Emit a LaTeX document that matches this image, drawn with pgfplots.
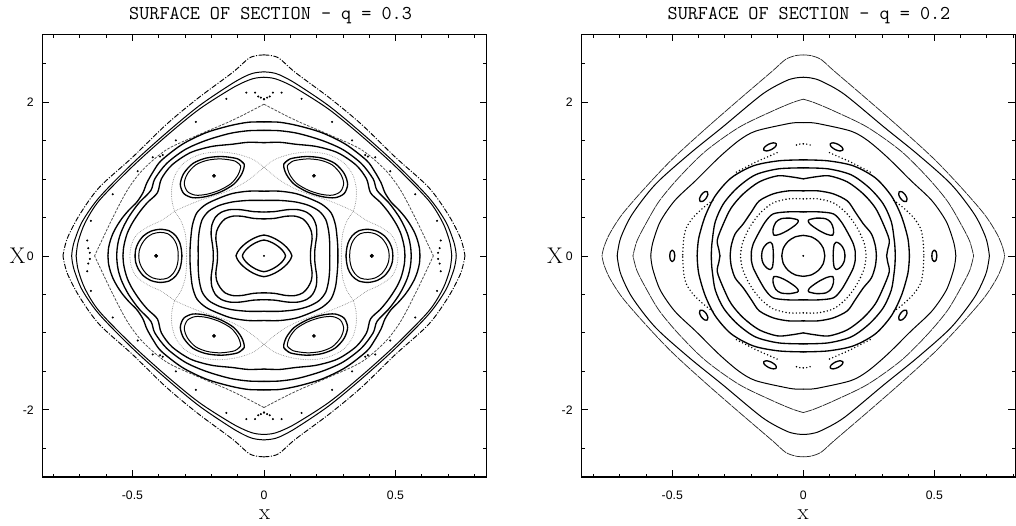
\documentclass[border=0pt]{standalone}
\usepackage{fontspec}
\usepackage{pgfplots}
\pgfplotsset{compat=1.18}
\usepackage{pgfplotstable}
\newfontfamily\tickfont{Liberation Sans}

% ---------- LEFT PANEL (q = 0.3), first quadrant, mirrored ----------
\pgfplotstableread[row sep=\\]{x y\\ 0 2.61\\ 0.03 2.60\\ 0.06 2.56\\ 0.12 2.38\\ 0.25 2.05\\ 0.37 1.71\\ 0.5 1.28\\ 0.626 0.89\\ 0.70 0.54\\ 0.745 0.25\\ 0.76 0.08\\ 0.764 0\\}\LOone
\pgfplotstableread[row sep=\\]{x y\\ 0 2.39\\ 0.03 2.38\\ 0.06 2.35\\ 0.12 2.24\\ 0.246 1.95\\ 0.37 1.6\\ 0.5 1.2\\ 0.626 0.76\\ 0.69 0.45\\ 0.72 0.2\\ 0.729 0.07\\ 0.731 0\\}\LOtwo
\pgfplotstableread[row sep=\\]{x y\\ 0 2.32\\ 0.03 2.31\\ 0.06 2.28\\ 0.12 2.18\\ 0.246 1.905\\ 0.37 1.56\\ 0.5 1.16\\ 0.626 0.72\\ 0.68 0.43\\ 0.705 0.2\\ 0.712 0.07\\ 0.714 0\\}\LOthree
\pgfplotstableread[row sep=\\]{x y\\ 0 1.97\\ 0.073 1.84\\ 0.14 1.73\\ 0.25 1.57\\ 0.37 1.38\\ 0.46 1.12\\ 0.52 0.85\\ 0.58 0.46\\ 0.644 0\\}\LCusp
\pgfplotstableread[row sep=\\]{x y\\ 0 1.74\\ 0.06 1.735\\ 0.13 1.69\\ 0.22 1.6\\ 0.31 1.45\\ 0.39 1.24\\ 0.42 1.1\\ 0.445 0.95\\ 0.46 0.82\\ 0.483 0.7\\ 0.512 0.6\\ 0.537 0.5\\ 0.557 0.4\\ 0.573 0.3\\ 0.584 0.2\\ 0.591 0.1\\ 0.593 0\\}\LEtwo
\pgfplotstableread[row sep=\\]{x y\\ 0 1.63\\ 0.06 1.625\\ 0.13 1.59\\ 0.22 1.5\\ 0.3 1.38\\ 0.37 1.2\\ 0.415 1.0\\ 0.43 0.85\\ 0.472 0.7\\ 0.495 0.6\\ 0.515 0.5\\ 0.531 0.4\\ 0.544 0.3\\ 0.553 0.2\\ 0.558 0.1\\ 0.56 0\\}\LEthree
\pgfplotstableread[row sep=\\]{x y\\ 0 1.47\\ 0.06 1.475\\ 0.12 1.45\\ 0.2 1.42\\ 0.28 1.34\\ 0.35 1.18\\ 0.39 1.0\\ 0.405 0.82\\ 0.441 0.7\\ 0.466 0.6\\ 0.487 0.5\\ 0.505 0.4\\ 0.519 0.3\\ 0.528 0.2\\ 0.534 0.1\\ 0.536 0\\}\LEfour
\pgfplotstableread[row sep=\\]{x y\\ 0 1.15\\ 0.04 1.25\\ 0.1 1.32\\ 0.17 1.35\\ 0.24 1.32\\ 0.3 1.22\\ 0.335 1.07\\ 0.35 0.9\\ 0.35 0.72\\ 0.34 0.58\\}\LSoutA
\pgfplotstableread[row sep=\\]{x y\\ 0.34 0.58\\ 0.39 0.46\\ 0.44 0.38\\ 0.485 0.27\\ 0.505 0.13\\ 0.51 0\\}\LSoutB
\pgfplotstableread[row sep=\\]{x y\\ 0 1.15\\ 0.035 1.05\\ 0.075 0.95\\ 0.125 0.86\\ 0.18 0.79\\ 0.24 0.725\\ 0.295 0.65\\ 0.34 0.58\\}\LSinA
\pgfplotstableread[row sep=\\]{x y\\ 0.34 0.58\\ 0.315 0.45\\ 0.3 0.3\\ 0.295 0.15\\ 0.294 0\\}\LSinB
\pgfplotstableread[row sep=\\]{x y\\ 0.075 1.19\\ 0.1 1.26\\ 0.16 1.29\\ 0.22 1.27\\ 0.27 1.2\\ 0.305 1.07\\ 0.318 0.93\\ 0.305 0.81\\ 0.27 0.755\\ 0.22 0.77\\ 0.165 0.83\\ 0.115 0.93\\ 0.085 1.06\\ 0.075 1.19\\ 0.1 1.26\\}\LIsOut
\pgfplotstableread[row sep=\\]{x y\\ 0.089 1.171\\ 0.111 1.232\\ 0.164 1.259\\ 0.216 1.241\\ 0.26 1.18\\ 0.291 1.065\\ 0.303 0.942\\ 0.291 0.836\\ 0.26 0.788\\ 0.216 0.801\\ 0.168 0.854\\ 0.124 0.942\\ 0.098 1.056\\ 0.089 1.171\\ 0.111 1.232\\}\LIsIn
\pgfplotstableread[row sep=\\]{x y\\ 0.49 0\\ 0.488 0.08\\ 0.478 0.17\\ 0.458 0.26\\ 0.43 0.32\\ 0.395 0.345\\ 0.36 0.325\\ 0.335 0.26\\ 0.32 0.17\\ 0.314 0.08\\ 0.312 0\\}\LSideOut
\pgfplotstableread[row sep=\\]{x y\\ 0.476 0\\ 0.474 0.07\\ 0.465 0.15\\ 0.448 0.23\\ 0.424 0.285\\ 0.395 0.305\\ 0.366 0.288\\ 0.346 0.232\\ 0.333 0.155\\ 0.327 0.07\\ 0.326 0\\}\LSideIn
\pgfplotstableread[row sep=\\]{x y\\ 0 0.84\\ 0.06 0.84\\ 0.12 0.81\\ 0.17 0.75\\ 0.22 0.67\\ 0.255 0.56\\ 0.272 0.4\\ 0.279 0.2\\ 0.281 0.08\\ 0.281 0\\}\LCa
\pgfplotstableread[row sep=\\]{x y\\ 0 0.72\\ 0.06 0.72\\ 0.12 0.70\\ 0.17 0.655\\ 0.21 0.58\\ 0.235 0.47\\ 0.246 0.32\\ 0.25 0.16\\ 0.25 0\\}\LCb
\pgfplotstableread[row sep=\\]{x y\\ 0 0.57\\ 0.04 0.575\\ 0.09 0.6\\ 0.13 0.6\\ 0.163 0.565\\ 0.185 0.5\\ 0.198 0.4\\ 0.201 0.28\\ 0.196 0.15\\ 0.193 0.06\\ 0.193 0\\}\LCc
\pgfplotstableread[row sep=\\]{x y\\ 0 0.48\\ 0.04 0.487\\ 0.085 0.515\\ 0.12 0.515\\ 0.148 0.48\\ 0.167 0.41\\ 0.18 0.32\\ 0.183 0.22\\ 0.179 0.12\\ 0.177 0.05\\ 0.177 0\\}\LCd
\pgfplotstableread[row sep=\\]{x y\\ 0 0.27\\ 0.0175 0.258\\ 0.042 0.223\\ 0.0668 0.17\\ 0.0875 0.107\\ 0.101 0.045\\ 0.106 0\\}\LRone
\pgfplotstableread[row sep=\\]{x y\\ 0 0.205\\ 0.0135 0.196\\ 0.0326 0.169\\ 0.0517 0.129\\ 0.0677 0.0814\\ 0.0783 0.0338\\ 0.082 0\\}\LRtwo
\pgfplotstableread[row sep=\\]{x y\\ 0 2.035\\ 0.012 2.055\\ 0.022 2.07\\ 0.034 2.12\\ 0.067 2.12\\ 0.143 2.04\\ 0.259 1.74\\ 0.335 1.5\\ 0.385 1.31\\ 0.395 1.29\\ 0.423 1.28\\ 0.48 1.1\\ 0.575 0.8\\ 0.658 0.455\\ 0.672 0.2\\ 0.668 0.1\\ 0.662 0.04\\}\LDots
\pgfplotstableread[row sep=\\]{x y\\ 0.41 0\\ 0.19 1.04\\}\LCenters

% ---------- RIGHT PANEL (q = 0.2) ----------
\pgfplotstableread[row sep=\\]{x y\\ 0 2.61\\ 0.03 2.60\\ 0.068 2.55\\ 0.118 2.4\\ 0.245 2.03\\ 0.373 1.65\\ 0.5 1.255\\ 0.602 0.89\\ 0.691 0.54\\ 0.74 0.28\\ 0.762 0.1\\ 0.768 0\\}\ROone
\pgfplotstableread[row sep=\\]{x y\\ 0 2.32\\ 0.03 2.31\\ 0.068 2.27\\ 0.156 2.1\\ 0.309 1.67\\ 0.436 1.32\\ 0.564 0.93\\ 0.653 0.54\\ 0.695 0.25\\ 0.707 0.08\\ 0.71 0\\}\ROtwo
\pgfplotstableread[row sep=\\]{x y\\ 0 2.035\\ 0.042 1.99\\ 0.118 1.88\\ 0.245 1.67\\ 0.373 1.36\\ 0.474 1.02\\ 0.55 0.71\\ 0.602 0.41\\ 0.635 0.19\\ 0.65 0\\}\ROthree
\pgfplotstableread[row sep=\\]{x y\\ 0 1.73\\ 0.03 1.73\\ 0.068 1.71\\ 0.182 1.62\\ 0.245 1.5\\ 0.321 1.28\\ 0.41 0.98\\ 0.49 0.72\\ 0.545 0.45\\ 0.572 0.2\\ 0.58 0.07\\ 0.582 0\\}\ROfour
\pgfplotstableread[row sep=\\]{x y\\ 0.151 1.375\\ 0.140 1.362\\ 0.122 1.380\\ 0.106 1.419\\ 0.103 1.455\\ 0.114 1.468\\ 0.132 1.450\\ 0.148 1.411\\ 0.151 1.375\\ 0.140 1.362\\}\RIsA
\pgfplotstableread[row sep=\\]{x y\\ 0.394 0.708\\ 0.383 0.709\\ 0.371 0.747\\ 0.364 0.798\\ 0.366 0.832\\ 0.377 0.831\\ 0.389 0.793\\ 0.396 0.742\\ 0.394 0.708\\ 0.383 0.709\\}\RIsB
\pgfplotstableread[row sep=\\]{x y\\ 0.5095 0\\ 0.5085 0.03\\ 0.5067 0.054\\ 0.5 0.076\\ 0.4933 0.054\\ 0.4915 0.03\\ 0.4905 0\\}\RIsC
\pgfplotstableread[row sep=\\]{x y\\ 0 1.455\\ 0.018 1.45\\ 0.036 1.425\\}\RDa
\pgfplotstableread[row sep=\\]{x y\\ 0.1 1.34\\ 0.14 1.28\\ 0.18 1.22\\ 0.22 1.15\\ 0.26 1.08\\}\RDb
\pgfplotstableread[row sep=\\]{x y\\ 0.345 0.72\\ 0.38 0.63\\ 0.42 0.5\\ 0.447 0.36\\ 0.457 0.2\\ 0.46 0\\}\RDc
\pgfplotstableread[row sep=\\]{x y\\ 0 1.247\\ 0.095 1.234\\ 0.191 1.169\\ 0.275 1.013\\ 0.336 0.779\\ 0.374 0.519\\ 0.397 0.26\\ 0.403 0.12\\ 0.405 0\\}\RWfour
\pgfplotstableread[row sep=\\]{x y\\ 0 1.143\\ 0.095 1.13\\ 0.183 1.052\\ 0.252 0.883\\ 0.305 0.675\\ 0.336 0.442\\ 0.347 0.208\\ 0.35 0.1\\ 0.351 0\\}\RWthree
\pgfplotstableread[row sep=\\]{x y\\ 0 1.0\\ 0.046 1.026\\ 0.099 1.039\\ 0.168 0.961\\ 0.229 0.805\\ 0.275 0.623\\ 0.305 0.416\\ 0.328 0.208\\ 0.322 0.08\\ 0.318 0\\}\RWtwo
\pgfplotstableread[row sep=\\]{x y\\ 0 0.844\\ 0.057 0.844\\ 0.115 0.805\\ 0.168 0.714\\ 0.198 0.571\\ 0.229 0.416\\ 0.26 0.286\\ 0.275 0.13\\ 0.279 0\\}\RWone
\pgfplotstableread[row sep=\\]{x y\\ 0 0.74\\ 0.057 0.74\\ 0.115 0.688\\ 0.16 0.571\\ 0.191 0.442\\ 0.214 0.312\\ 0.233 0.156\\ 0.24 0\\}\RDone
\pgfplotstableread[row sep=\\]{x y\\ 0 0.571\\ 0.061 0.571\\ 0.115 0.545\\ 0.145 0.442\\ 0.172 0.286\\ 0.191 0.156\\ 0.198 0.06\\ 0.198 0\\}\RHex
\pgfplotstableread[row sep=\\]{x y\\ 0 0.266\\ 0.0314 0.246\\ 0.058 0.188\\ 0.076 0.102\\ 0.082 0\\}\RCirc
\pgfplotstableread[row sep=\\]{x y\\ 0.159 0\\ 0.157 0.06\\ 0.15 0.115\\ 0.138 0.16\\ 0.125 0.178\\ 0.118 0.15\\ 0.115 0.08\\ 0.114 0\\}\RTriS
\pgfplotstableread[row sep=\\]{x y\\ 0.022 0.47\\ 0.05 0.49\\ 0.085 0.482\\ 0.105 0.435\\ 0.115 0.35\\ 0.113 0.27\\ 0.09 0.28\\ 0.06 0.33\\ 0.03 0.4\\ 0.02 0.44\\ 0.022 0.47\\ 0.05 0.49\\}\RTriD
\pgfplotstableread[row sep=\\]{x y\\ 0 0\\}\Origin

\newcommand{\fourfold}[2]{%
  \addplot[#2] table[x=x,y=y]{#1};
  \addplot[#2] table[x expr={-\thisrow{x}},y=y]{#1};
  \addplot[#2] table[x=x,y expr={-\thisrow{y}}]{#1};
  \addplot[#2] table[x expr={-\thisrow{x}},y expr={-\thisrow{y}}]{#1};
}

\pgfplotsset{
  sol/.style={black, line width=1.0pt, smooth, line cap=round, line join=round},
  med/.style={black, line width=0.75pt, smooth, line cap=round},
  thn/.style={black!85, line width=0.55pt, smooth, line cap=round},
  chaos/.style={black!45, line width=0.7pt, smooth, line cap=round, dash pattern=on 0pt off 1.3pt},
  dotc/.style={black, line width=1.2pt, smooth, line cap=round, dash pattern=on 0pt off 2.6pt},
  pts/.style={only marks, mark=*, mark size=0.55pt, black},
  sos/.style={
    scale only axis, height=331.7pt, ymin=-2.872, ymax=2.872,
    anchor=south west,
    xtick={-0.5,0,0.5}, ytick={-2,0,2},
    minor xtick={-0.8,-0.7,-0.6,-0.4,-0.3,-0.2,-0.1,0.1,0.2,0.3,0.4,0.6,0.7,0.8},
    minor ytick={-2.5,-1.5,-1,-0.5,0.5,1,1.5,2.5},
    major tick length=5pt, minor tick length=2.5pt,
    xtick pos=both, ytick pos=both, tick align=inside,
    tick style={black, line width=0.55pt},
    axis line style={black, line width=0.8pt},
    /pgf/number format/assume math mode=true,
    tick label style={font=\tickfont\fontsize{9.2}{11}\selectfont},
    xticklabel style={yshift=-7pt},
    yticklabel style={xshift=-3pt},
    xticklabels={-0.5,0,0.5}, yticklabels={-2,0,2},
  },
}

\begin{document}
\begin{tikzpicture}
\useasboundingbox (0,0) rectangle (762pt,393.75pt);

% ================= LEFT =================
\begin{axis}[sos, at={(31.875pt,36pt)}, width=333pt, xmin=-0.842, xmax=0.846]
  \fourfold{\LOone}{black, line width=0.7pt, smooth, dash pattern=on 4pt off 1.2pt on 0.8pt off 1.2pt}
  \fourfold{\LOtwo}{med}
  \fourfold{\LOthree}{med}
  \fourfold{\LCusp}{black!70, line width=0.6pt, smooth, dash pattern=on 2pt off 1pt}
  \fourfold{\LEtwo}{sol}
  \fourfold{\LEthree}{sol}
  \fourfold{\LEfour}{sol}
  \fourfold{\LSoutA}{chaos}
  \fourfold{\LSoutB}{chaos}
  \fourfold{\LSinA}{chaos}
  \fourfold{\LSinB}{chaos}
  \fourfold{\LIsOut}{sol}
  \fourfold{\LIsIn}{med}
  \fourfold{\LSideOut}{sol}
  \fourfold{\LSideIn}{med}
  \fourfold{\LCa}{sol}
  \fourfold{\LCb}{sol}
  \fourfold{\LCc}{sol}
  \fourfold{\LCd}{sol}
  \fourfold{\LRone}{sol}
  \fourfold{\LRtwo}{sol}
  \fourfold{\LDots}{pts}
  \fourfold{\LCenters}{only marks, mark=*, mark size=1.2pt, black}
  \addplot[only marks, mark=*, mark size=0.5pt, black] table[x=x,y=y]{\Origin};
\end{axis}

% ================= RIGHT =================
\begin{axis}[sos, at={(435.98pt,36pt)}, width=325.3pt, xmin=-0.847, xmax=0.808]
  \fourfold{\ROone}{thn, dash pattern=on 6pt off 0.8pt}
  \fourfold{\ROtwo}{med}
  \fourfold{\ROthree}{thn, dash pattern=on 7pt off 0.8pt}
  \fourfold{\ROfour}{med}
  \fourfold{\RIsA}{sol}
  \fourfold{\RIsB}{sol}
  \fourfold{\RIsC}{sol}
  \fourfold{\RDa}{dotc}
  \fourfold{\RDb}{dotc}
  \fourfold{\RDc}{dotc}
  \fourfold{\RWfour}{sol}
  \fourfold{\RWthree}{sol}
  \fourfold{\RWtwo}{sol}
  \fourfold{\RWone}{sol}
  \fourfold{\RDone}{dotc}
  \fourfold{\RHex}{sol}
  \fourfold{\RCirc}{sol}
  \fourfold{\RTriS}{sol}
  \fourfold{\RTriD}{sol}
  \addplot[only marks, mark=*, mark size=0.5pt, black] table[x=x,y=y]{\Origin};
\end{axis}

% ---- titles and labels ----
\node[font=\ttfamily\fontsize{14.7}{16}\selectfont, anchor=base] at (202.9pt,378.75pt) {SURFACE OF SECTION - q = 0.3};
\node[font=\ttfamily\fontsize{14.7}{16}\selectfont, anchor=base] at (606.75pt,378.75pt) {SURFACE OF SECTION - q = 0.2};
\node[font=\fontsize{17}{19}\selectfont, inner sep=0pt] at (13.1pt,202.1pt) {X};
\node[font=\fontsize{17}{19}\selectfont, inner sep=0pt] at (416.25pt,202.1pt) {X};
\node[font=\fontsize{17}{19}\selectfont, inner sep=0pt] at (198.4pt,7.9pt) {x};
\node[font=\fontsize{17}{19}\selectfont, inner sep=0pt] at (602.3pt,7.9pt) {x};
\end{tikzpicture}
\end{document}
